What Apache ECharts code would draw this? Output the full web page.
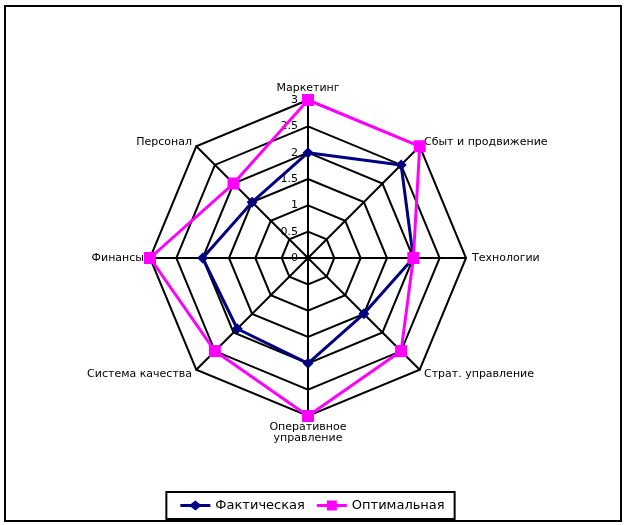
<!DOCTYPE html>
<html>
<head>
<meta charset="utf-8">
<script src="https://cdn.jsdelivr.net/npm/echarts@6/dist/echarts.min.js"></script>
<style>
  html, body { margin: 0; padding: 0; background: #fff; }
  #chart { width: 625px; height: 525px; }
</style>
</head>
<body>
<div id="chart"></div>
<script>
// categories go clockwise from the top, as in the picture
const categories = [
  "Маркетинг",
  "Сбыт и продвижение",
  "Технологии",
  "Страт. управление",
  "Оперативное\nуправление",
  "Система качества",
  "Финансы",
  "Персонал"
]
const factual = [2, 2.5, 2, 1.5, 2, 1.9, 2, 1.5]
const optimal = [3, 3, 2, 2.5, 3, 2.5, 3, 2]
const tickValues = [0, 0.5, 1, 1.5, 2, 2.5, 3]
const maxValue = 3

// echarts radar goes counter-clockwise, so reorder to get clockwise
const order = [0, 7, 6, 5, 4, 3, 2, 1]
const pick = arr => order.map(i => arr[i])

const cx = 308
const cy = 258
const r = 158

// legend icons: line with diamond / line with square
const iconDiamond = "path://M0,3.5L10.5,3.5L15,0L19.5,3.5L30,3.5L30,6.5L19.5,6.5L15,10L10.5,6.5L0,6.5Z"
const iconSquare = "path://M0,3.5L10,3.5L10,0L20,0L20,3.5L30,3.5L30,6.5L20,6.5L20,10L10,10L10,6.5L0,6.5Z"

let option = {
  animation: false,
  backgroundColor: "#fff",
  textStyle: { fontFamily: "DejaVu Sans" },
  graphic: [
    {
      type: "rect",
      shape: { x: 5, y: 6, width: 616, height: 515 },
      style: { fill: null, stroke: "#000", lineWidth: 2 }
    }
  ],
  legend: {
    bottom: 6,
    left: "center",
    data: [
      { name: "Фактическая", icon: iconDiamond },
      { name: "Оптимальная", icon: iconSquare }
    ],
    borderColor: "#000",
    borderWidth: 2,
    padding: [7, 10, 7, 14],
    itemGap: 12,
    itemWidth: 30,
    itemHeight: 10,
    textStyle: { color: "#000", fontSize: 13, fontFamily: "DejaVu Sans" }
  },
  grid: {
    left: cx,
    top: cy - r,
    width: 1,
    height: r
  },
  xAxis: { type: "value", show: false },
  yAxis: {
    type: "value",
    min: 0,
    max: maxValue,
    interval: 0.5,
    axisLine: { show: false },
    axisTick: { show: false },
    splitLine: { show: false },
    axisLabel: {
      color: "#000",
      fontSize: 11,
      margin: 10,
      formatter: v => (tickValues.indexOf(v) >= 0 ? String(v) : "")
    }
  },
  radar: {
    center: [cx, cy],
    radius: r,
    shape: "polygon",
    splitNumber: 6,
    indicator: pick(categories).map(name => ({ name: name, min: 0, max: maxValue })),
    axisName: {
      color: "#000",
      fontSize: 11,
      fontFamily: "DejaVu Sans"
    },
    nameGap: 6,
    axisLine: { lineStyle: { color: "#000", width: 2 } },
    splitLine: { lineStyle: { color: "#000", width: 2 } },
    splitArea: { show: false },
    axisTick: { show: false },
    axisLabel: { show: false }
  },
  series: [
    {
      type: "radar",
      z: 3,
      data: [
        {
          name: "Фактическая",
          value: pick(factual),
          symbol: "diamond",
          symbolSize: 11,
          itemStyle: { color: "#000080" },
          lineStyle: { color: "#000080", width: 3 }
        },
        {
          name: "Оптимальная",
          value: pick(optimal),
          symbol: "rect",
          symbolSize: 12,
          itemStyle: { color: "#ff00ff" },
          lineStyle: { color: "#ff00ff", width: 3 }
        }
      ]
    }
  ]
}

let chartEl = echarts.init(document.getElementById("chart"))
chartEl.setOption(option)
</script>
</body>
</html>
